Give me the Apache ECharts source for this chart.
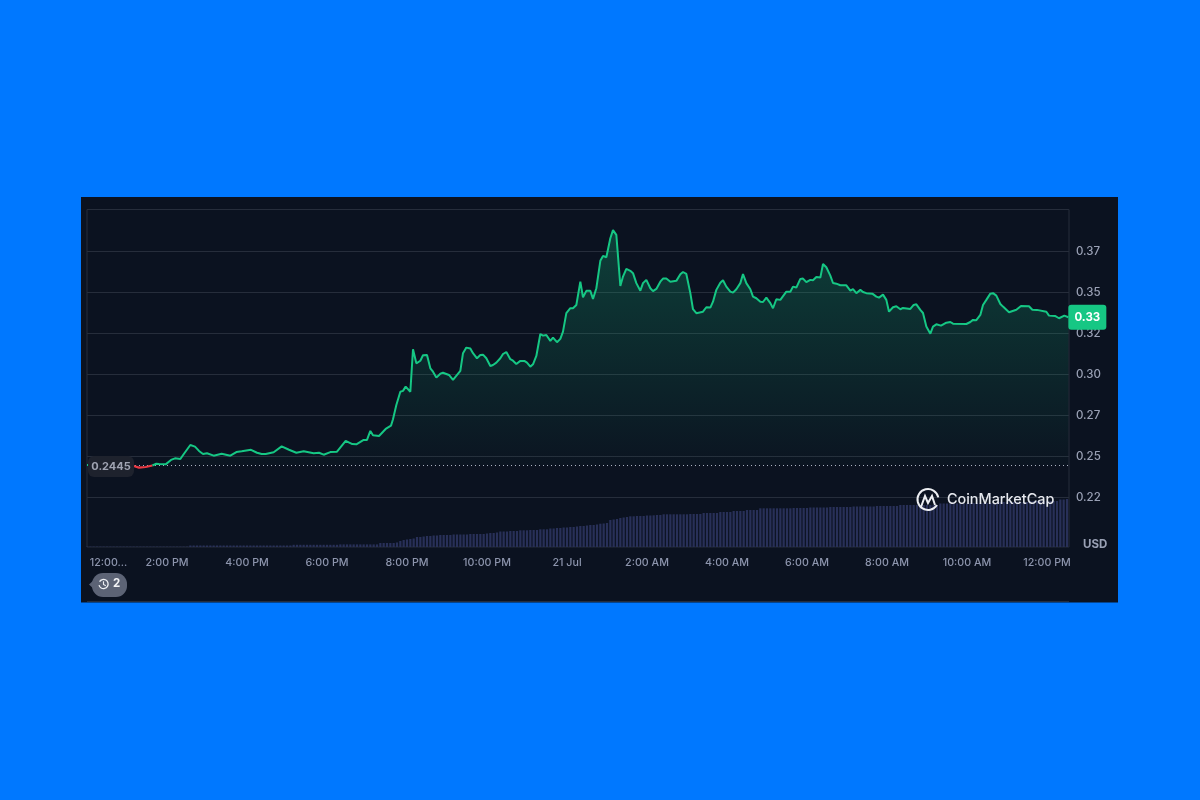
<!DOCTYPE html>
<html><head><meta charset="utf-8">
<style>html,body{margin:0;padding:0;background:#0078ff}#c{width:1200px;height:800px}</style>
<script src="https://cdn.jsdelivr.net/npm/echarts@6/dist/echarts.min.js"></script>
</head><body><div id="c"></div>
<script>
// minutes after 12:00 PM
const priceMinutes = [0,70,78,88,98,104,108,118,126,132,140,146,155,162,168,174,180,190,202,215,224,232,246,255,262,268,280,292,303,314,325,340,348,355,365,375,388,398,404,415,420,425,429,438,448,456,459,464,470,474,478,485,489,494,500,504,510,515,519,524,530,534,543,549,560,564,569,575,579,585,590,594,599,605,609,614,620,624,629,635,639,644,650,656,660,665,669,674,680,684,689,695,699,705,710,714,719,725,729,734,740,744,749,755,759,764,770,774,779,785,789,794,800,804,809,815,819,824,830,834,839,845,849,854,860,864,869,875,884,890,894,899,905,909,914,924,929,935,939,944,950,954,959,965,969,974,980,984,989,995,999,1004,1010,1014,1019,1025,1029,1034,1040,1043,1049,1055,1059,1064,1070,1074,1079,1085,1089,1094,1100,1104,1109,1115,1119,1124,1130,1139,1145,1149,1154,1160,1164,1169,1178,1184,1188,1194,1199,1203,1209,1214,1220,1224,1235,1240,1244,1250,1254,1259,1265,1269,1274,1281,1289,1295,1299,1319,1325,1329,1334,1340,1344,1349,1355,1359,1364,1370,1374,1383,1394,1401,1413,1418,1425,1439,1443,1452,1458,1466,1472];
const prices = [0.2448,0.2442,0.2432,0.2436,0.2445,0.2456,0.2454,0.2452,0.2479,0.2489,0.2485,0.2520,0.2570,0.2560,0.2534,0.2515,0.2520,0.2505,0.2517,0.2505,0.2527,0.2532,0.2541,0.2523,0.2515,0.2515,0.2526,0.2562,0.2541,0.2523,0.2532,0.2520,0.2523,0.2511,0.2527,0.2529,0.2595,0.2576,0.2574,0.2601,0.2601,0.2656,0.2629,0.2625,0.2668,0.2688,0.2727,0.2814,0.2895,0.2900,0.2926,0.2895,0.3154,0.3068,0.3084,0.3117,0.3119,0.3038,0.3017,0.2981,0.3005,0.3011,0.2997,0.2967,0.3022,0.3130,0.3164,0.3158,0.3130,0.3099,0.3119,0.3121,0.3099,0.3052,0.3058,0.3072,0.3099,0.3125,0.3137,0.3093,0.3084,0.3064,0.3083,0.3083,0.3072,0.3048,0.3062,0.3113,0.3247,0.3237,0.3241,0.3205,0.3225,0.3197,0.3217,0.3261,0.3374,0.3404,0.3404,0.3424,0.3566,0.3471,0.3510,0.3510,0.3461,0.3526,0.3693,0.3723,0.3715,0.3831,0.3880,0.3851,0.3540,0.3597,0.3644,0.3632,0.3618,0.3557,0.3511,0.3557,0.3577,0.3526,0.3508,0.3522,0.3566,0.3585,0.3585,0.3566,0.3571,0.3611,0.3625,0.3613,0.3496,0.3398,0.3374,0.3383,0.3410,0.3408,0.3444,0.3516,0.3560,0.3575,0.3536,0.3505,0.3499,0.3520,0.3557,0.3613,0.3557,0.3520,0.3475,0.3465,0.3444,0.3442,0.3469,0.3435,0.3404,0.3459,0.3455,0.3444,0.3505,0.3505,0.3536,0.3530,0.3583,0.3585,0.3563,0.3577,0.3575,0.3595,0.3591,0.3674,0.3654,0.3603,0.3558,0.3554,0.3544,0.3544,0.3511,0.3520,0.3496,0.3516,0.3503,0.3496,0.3493,0.3475,0.3469,0.3487,0.3455,0.3383,0.3410,0.3416,0.3398,0.3406,0.3400,0.3424,0.3428,0.3394,0.3375,0.3292,0.3249,0.3292,0.3306,0.3298,0.3316,0.3320,0.3310,0.3308,0.3320,0.3333,0.3331,0.3363,0.3424,0.3455,0.3493,0.3496,0.3481,0.3430,0.3414,0.3380,0.3395,0.3418,0.3416,0.3395,0.3394,0.3383,0.3359,0.3357,0.3343,0.3359,0.3349];
// one bar every 5 minutes, relative volume
const volumes = [0.4,0.4,0.4,0.4,0.4,0.4,0.4,0.4,0.4,0.4,0.4,0.4,0.4,0.4,0.4,0.4,0.4,0.4,0.4,0.4,0.4,0.4,0.4,0.4,0.4,0.4,0.4,0.4,0.4,0.4,0.4,
1.5,1.5,1.5,1.5,1.5,1.5,1.5,1.5,1.5,1.5,1.5,1.5,1.5,1.5,1.5,1.5,1.5,1.5,1.5,1.5,1.5,1.5,1.5,1.5,1.5,1.5,1.5,1.5,1.5,1.5,1.5,
2.2,2.2,2.2,2.2,2.2,2.2,2.2,2.2,2.2,2.2,2.2,2.2,2.2,2.2,
2.6,2.6,2.6,2.6,2.6,2.6,2.6,2.6,2.6,2.6,2.6,2.6,
4,4,4,4,4,4.5,6,7,7.5,8,8.5,
10,10,10.5,11,11,11.5,11.5,
12,12,12,12,12.5,12.5,12.5,12.5,12.5,13,13,13,13,13,13.5,
14,14,14.5,15.5,15.5,15.5,16,16,16,16.7,16.7,16.7,17,17,17,
17.7,17.7,17.7,18.5,18.5,19,19,19.5,19.5,20,20,20.5,21,21,21.5,22,22,22.5,
23.3,23.5,24,27,27.5,28,
29,29.5,30,30.7,30.7,31,31,31,31.5,31.5,31.7,32,32,
32.7,32.7,32.7,32.7,32.7,32.7,32.7,32.7,33,33,33,33,34,34,34,34,34,35,35,35,35,36,36,36,36,37,37,37,37,
38.7,38.7,38.7,38.7,38.7,38.7,38.7,38.7,38.7,38.7,39,39,39,39,39,39.5,39.5,39.5,39.5,39.5,39.5,
40,40,40,40,40,40,40,40.5,40.5,40.5,40.5,40.5,40.5,40.5,41,41,41,41,41,41,41,
42,42,42,42,42,42,42,42,42,42,42,42,
43.5,43.5,43.5,43.5,43.5,43.5,43.5,43.5,43.5,44,44,44,44,44,44,44,44,44,
45,45,45,45,45,45,45,45,45,46,46,46,46,46,46,46,46,46,
47.5,47.5,48];
const xTickLabels = ['12:00...','2:00 PM','4:00 PM','6:00 PM','8:00 PM','10:00 PM','21 Jul','2:00 AM','4:00 AM','6:00 AM','8:00 AM','10:00 AM','12:00 PM'];
const yTicks = [0.225,0.25,0.275,0.3,0.325,0.35,0.375];
const yTickLabels = ['0.22','0.25','0.27','0.30','0.32','0.35','0.37'];
const openPrice = 0.2445, lastPriceLabel = '0.33';
const belowOpenFrom = 1, belowOpenTo = 4; // stretch of prices drawn red
const spanMinutes = 1473;

const GREEN='#16c784', RED='#ea3943', GRID='#262d3b', FONT='Inter, "Noto Sans", sans-serif';
const chart = echarts.init(document.getElementById('c'), null, {renderer:'canvas'});
const last = priceMinutes.length-1;
const pairs = prices.map((p,i)=>[priceMinutes[i],p]);
const greenData = pairs.map((d,i)=>(i>belowOpenFrom && i<belowOpenTo)?[d[0],null]:d);
const redData = pairs.slice(belowOpenFrom,belowOpenTo+1);
const tag = (coord,text,bg,fg,w,h,r,weight,size,off) => ({coord,symbol:'rect',symbolSize:1,itemStyle:{color:'rgba(0,0,0,0)'},
  label:{show:true,position:'inside',offset:off,formatter:text,backgroundColor:bg,color:fg,width:w,height:h,lineHeight:h,align:'center',verticalAlign:'middle',
    borderRadius:r,fontFamily:FONT,fontSize:size,fontWeight:weight}});
chart.setOption({
  animation:false,
  backgroundColor:'#0078ff',
  grid:[
    {left:87,right:131,top:210.5,height:328,show:false},
    {left:87,right:131,top:209.5,height:337.5,show:true,borderColor:GRID,borderWidth:1,backgroundColor:'transparent'}
  ],
  xAxis:[
    {gridIndex:0,type:'value',min:0,max:spanMinutes,interval:120,show:false},
    {gridIndex:1,type:'value',min:0,max:spanMinutes,interval:120,
     axisLine:{show:false},axisTick:{show:false},splitLine:{show:false},
     axisLabel:{color:'#8d95ad',fontFamily:FONT,fontSize:10.7,fontWeight:500,margin:10,showMaxLabel:false,alignMinLabel:'left',
       formatter:v=>(v===0?' ':'')+(xTickLabels[v/120]||'')}}
  ],
  yAxis:[
    {gridIndex:0,type:'value',position:'right',min:0.2,max:0.4,interval:0.025,
     axisLine:{show:false},axisTick:{show:false},
     splitLine:{show:true,showMinLine:false,showMaxLine:false,lineStyle:{color:GRID,width:1}},
     axisLabel:{color:'#9aa1b5',fontFamily:FONT,fontSize:11.5,fontWeight:500,margin:7,showMinLabel:false,showMaxLabel:false,
       formatter:v=>{const i=yTicks.findIndex(t=>Math.abs(t-v)<1e-6);return i<0?'':yTickLabels[i];}}},
    {gridIndex:1,type:'value',min:0,max:337.5,show:false}
  ],
  series:[
    {type:'line',xAxisIndex:0,yAxisIndex:0,z:2,showSymbol:false,silent:true,
     data:[[0,openPrice],[spanMinutes,openPrice]],
     lineStyle:{color:'#aeb4c4',type:[1,3],width:1}},
    {type:'line',xAxisIndex:0,yAxisIndex:0,z:3,showSymbol:false,smooth:false,
     data:greenData,
     lineStyle:{width:2,color:GREEN},itemStyle:{color:GREEN},
     areaStyle:{origin:openPrice,color:new echarts.graphic.LinearGradient(0,0,0,1,[
       {offset:0,color:'rgba(22,199,132,0.36)'},{offset:1,color:'rgba(22,199,132,0.02)'}])},
     markPoint:{silent:true,data:[
       tag([36,openPrice],String(openPrice),'#1e222d','#9fa3b2',46,21,6,700,11,[0,1]),
       tag([priceMinutes[last],prices[last]],lastPriceLabel,GREEN,'#fff',38,25,3,700,11.5,[19,0])
     ]}},
    {type:'line',xAxisIndex:0,yAxisIndex:0,z:3,showSymbol:false,data:redData,
     lineStyle:{width:2.2,color:RED},itemStyle:{color:RED}},
    {type:'bar',xAxisIndex:1,yAxisIndex:1,z:2,barWidth:2.2,
     data:volumes.map((v,i)=>[i*5,v]),itemStyle:{color:'#283058'}}
  ],
  graphic:[
    {type:'rect',z:-5,shape:{x:81,y:197,width:1037,height:405.5},style:{fill:'#0b1220'}},
    {type:'line',z:1,shape:{x1:87,y1:601.5,x2:1069,y2:601.5},style:{stroke:GRID,lineWidth:1}},
    {type:'text',z:50,x:1083,y:539,style:{text:'USD',fill:'#9aa1b5',font:'700 11.5px '+FONT}},
    // CoinMarketCap mark
    {type:'arc',z:50,shape:{cx:928,cy:499.5,r:10.5,startAngle:0.55,endAngle:0.05+Math.PI*2-0.25},style:{stroke:'#eceef2',fill:'none',lineWidth:2}},
    {type:'polyline',z:50,shape:{points:[[921,507],[925,496],[928,503],[932,496],[935,505]]},style:{stroke:'#eceef2',fill:'none',lineWidth:2}},
    {type:'text',z:50,x:947,y:493,style:{text:'CoinMarketCap',fill:'#e6e8ee',font:'500 14.4px '+FONT}},
    // history badge
    {type:'rect',z:50,shape:{x:92,y:573,width:35,height:24,r:11},style:{fill:'#5c6375'}},
    {type:'polygon',z:50,shape:{points:[[89,584.5],[96,578],[96,591]]},style:{fill:'#5c6375'}},
    {type:'arc',z:51,shape:{cx:103.5,cy:584,r:4.6,startAngle:-2.6,endAngle:2.9},style:{stroke:'#eef0f4',fill:'none',lineWidth:1.3}},
    {type:'polyline',z:51,shape:{points:[[103.5,581.2],[103.5,584.4],[105.8,585.8]]},style:{stroke:'#eef0f4',fill:'none',lineWidth:1.1}},
    {type:'text',z:51,x:113,y:578,style:{text:'2',fill:'#f2f3f6',font:'700 11.5px '+FONT}}
  ]
});
</script></body></html>
